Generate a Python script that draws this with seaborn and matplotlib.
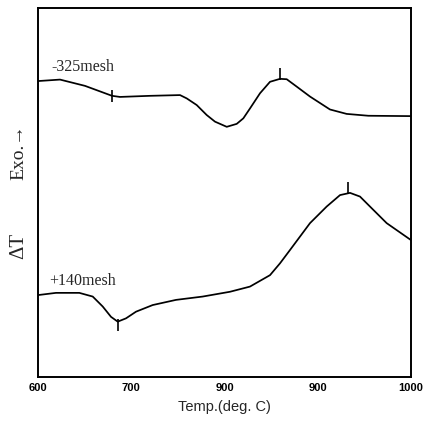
import numpy as np
import pandas as pd
import matplotlib
matplotlib.use("Agg")
import matplotlib.pyplot as plt
import seaborn as sns

# --- data (y in arbitrary units 0..100) ---
temp_fine = [600, 623.6, 650.4, 679.4, 687.9, 720.1, 752.3, 759.5, 770.2, 780.9,
             789.8, 802.4, 813.1, 820.2, 827.4, 838.1, 848.8, 859.5, 866.7,
             877.4, 891.7, 913.1, 931.0, 954.2, 1000]
dT_fine = [80.2, 80.6, 78.9, 76.2, 75.9, 76.2, 76.4, 75.5, 73.7, 71.0,
           69.2, 67.8, 68.6, 70.1, 72.8, 76.9, 80.0, 80.8, 80.7,
           78.7, 76.0, 72.5, 71.3, 70.8, 70.7]

temp_coarse = [600, 619.3, 644.3, 658.7, 669.4, 678.3, 685.5, 694.4, 705.1, 723.0,
               748.0, 776.6, 805.9, 827.3, 848.8, 859.5, 870.2, 891.7, 909.6,
               923.9, 934.6, 945.3, 956.0, 973.9, 1000]
dT_coarse = [22.2, 22.8, 22.8, 21.8, 19.1, 16.3, 15.0, 15.9, 17.7, 19.5,
             20.9, 21.8, 23.1, 24.5, 27.6, 30.8, 34.4, 41.7, 46.2,
             49.3, 49.9, 48.9, 46.2, 41.7, 37.1]

# characteristic-point marks on the curves
mark_fine_T = [679.4, 859.5]
mark_fine_v = [76.2, 82.0]
mark_coarse_T = [685.5, 932.5]
mark_coarse_v = [14.0, 51.2]

label_fine = "-325mesh"
label_coarse = "+140mesh"
xtick_pos = [600, 700, 800, 900, 1000]
xtick_labels = ["600", "700", "900", "900", "1000"]
xlabel = "Temp.(deg. C)"
ylabel_top = "Exo.\u2192"
ylabel_bottom = "\u0394T"

sns.set_style("white")
plt.rcParams['font.family'] = ['Liberation Sans', 'DejaVu Sans']

fig = plt.figure(figsize=(4.27, 4.25), dpi=100)
ax = fig.add_axes([38/427, 48/425, 373/427, 369/425])

df = pd.concat([
    pd.DataFrame({"T": temp_fine, "v": dT_fine, "s": label_fine}),
    pd.DataFrame({"T": temp_coarse, "v": dT_coarse, "s": label_coarse}),
])
for name, g in df.groupby("s", sort=False):
    sns.lineplot(data=g, x="T", y="v", ax=ax, color="black", lw=1.25,
                 sort=False, estimator=None)
for l in ax.lines:
    l.set_solid_joinstyle("round")
    l.set_solid_capstyle("round")

ax.plot(mark_fine_T, mark_fine_v, ls="none", marker="|", ms=9, mew=1.2, color="black")
ax.plot(mark_coarse_T, mark_coarse_v, ls="none", marker="|", ms=9, mew=1.2, color="black")

ax.set_xlim(600, 1000)
ax.set_ylim(0, 100)
ax.set_yticks([])
ax.set_xticks(xtick_pos)
ax.set_xticklabels(xtick_labels, fontsize=8, fontweight="bold")
ax.tick_params(axis="x", direction="in", length=9, width=1.2, pad=4, colors="black")
for t in ax.xaxis.get_major_ticks():
    t.tick2line.set_visible(False)
ax.xaxis.get_major_ticks()[0].tick1line.set_visible(False)
ax.xaxis.get_major_ticks()[-1].tick1line.set_visible(False)
ax.set_xlabel(xlabel, fontsize=10.5, labelpad=5)
ax.set_ylabel("")
for sp in ax.spines.values():
    sp.set_visible(True)
    sp.set_color("black")
    sp.set_linewidth(1.4)

ax.text(614, 83.9, label_fine, fontsize=11.5, family=['Liberation Serif'],
        va="center", ha="left")
ax.text(612, 26.0, label_coarse, fontsize=11.5, family=['Liberation Serif'],
        va="center", ha="left")

fig.text(19/427, 1 - 152/425, ylabel_top, rotation=90, fontsize=14,
         family=['Liberation Serif', 'DejaVu Serif'], ha="center", va="center")
fig.text(19/427, 1 - 246/425, ylabel_bottom, rotation=90, fontsize=15,
         family=['Liberation Serif', 'DejaVu Serif'], ha="center", va="center")

fig.savefig("out.png", dpi=100)
